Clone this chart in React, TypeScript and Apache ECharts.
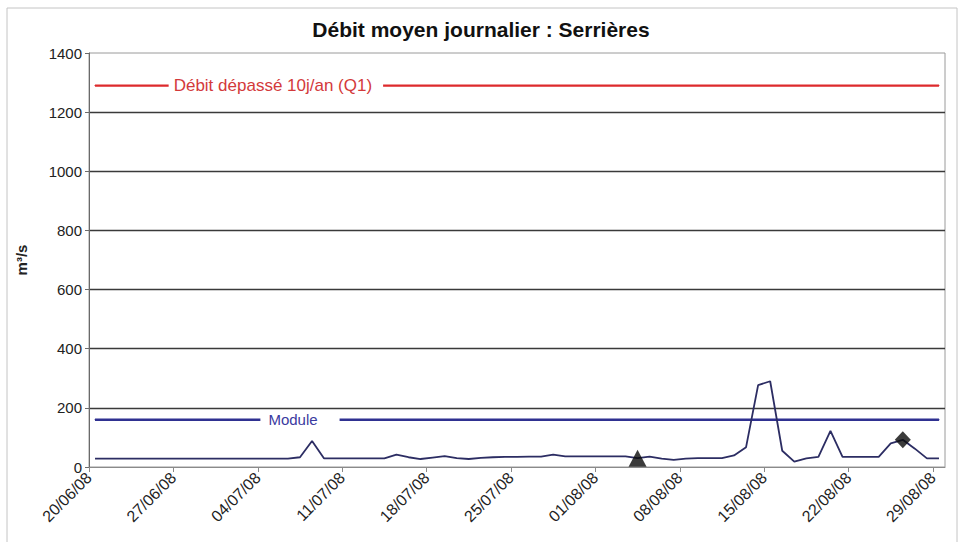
import React, { useEffect, useRef } from "react";
import * as echarts from "echarts";

const title = "Débit moyen journalier : Serrières";
const yAxisName = "m³/s";
const startDate = { year: 2008, month: 6, day: 20 };
const dayCount = 71;
const flow = [
  28, 28, 28, 28, 28, 28, 28, 28, 28, 28,
  28, 28, 28, 28, 28, 28, 28, 33, 88, 29,
  29, 29, 29, 29, 29, 42, 33, 27, 32, 37,
  30, 27, 31, 33, 34, 34, 35, 35, 42, 36,
  36, 36, 36, 36, 36, 30, 35, 28, 24, 28,
  30, 30, 30, 39, 67, 277, 290, 55, 18, 29,
  34, 122, 34, 34, 34, 34, 80, 92, 62, 29,
  29,
];
const q1Value = 1290;
const q1Label = "Débit dépassé 10j/an (Q1)";
const q1LabelDay = 15;
const moduleValue = 160;
const moduleLabel = "Module";
const moduleLabelDay = 17;
const triangleDay = 45;
const diamondDay = 67;
const yTicks = [0, 200, 400, 600, 800, 1000, 1200, 1400];
const labelEvery = 7;

function dateLabel(idx: number) {
  const d = new Date(startDate.year, startDate.month - 1, startDate.day + idx);
  const dd = String(d.getDate()).padStart(2, "0");
  const mm = String(d.getMonth() + 1).padStart(2, "0");
  const yy = String(d.getFullYear() % 100).padStart(2, "0");
  return `${dd}/${mm}/${yy}`;
}

const FONT = "'Liberation Sans', Arial, sans-serif";

export default function App() {
  const ref = useRef<HTMLDivElement>(null);
  useEffect(() => {
    if (!ref.current) return;
    const chart = echarts.init(ref.current, null, { renderer: "svg" });
    const flowData = flow.map((v, i) => [i + 0.5, v]);
    const constLine = (
      val: number,
      labelDay: number,
      text: string,
      color: string,
      size: number,
      pad: number[]
    ) =>
      Array.from({ length: dayCount }, (_, i) => {
        const item: any = { value: [i + 0.5, val] };
        if (i === labelDay) {
          item.label = {
            show: true,
            position: "inside",
            formatter: text,
            color,
            fontFamily: FONT,
            fontSize: size,
            backgroundColor: "#ffffff",
            padding: pad,
          };
        }
        return item;
      });
    chart.setOption({
      animation: false,
      backgroundColor: "#ffffff",
      textStyle: { fontFamily: FONT },
      title: {
        text: title,
        left: "center",
        top: 19,
        padding: 0,
        textStyle: { fontFamily: FONT, fontSize: 21, fontWeight: "bold", color: "#111" },
      },
      graphic: [
        {
          type: "rect",
          shape: { x: 7, y: 8, width: 950, height: 540 },
          style: { fill: "none", stroke: "#c4c4c4", lineWidth: 1 },
          silent: true,
        },
      ],
      grid: {
        left: 89,
        right: 17,
        top: 53,
        bottom: 75,
        show: true,
        borderColor: "#9a9a9a",
        borderWidth: 1,
      },
      xAxis: {
        type: "value",
        min: 0,
        max: dayCount,
        interval: labelEvery,
        axisLine: { show: true, onZero: false, lineStyle: { color: "#8a8a8a", width: 1 } },
        axisTick: { show: true, length: 5, lineStyle: { color: "#8a8a8a" } },
        splitLine: { show: false },
        axisLabel: {
          rotate: 45,
          margin: 8,
          fontSize: 16,
          color: "#222",
          fontFamily: FONT,
          showMaxLabel: false,
          formatter: (v: number) => (v % labelEvery === 0 && v < dayCount ? dateLabel(v) : ""),
        },
      },
      yAxis: {
        type: "value",
        min: yTicks[0],
        max: yTicks[yTicks.length - 1],
        interval: yTicks[1] - yTicks[0],
        name: yAxisName,
        nameLocation: "middle",
        nameRotate: 90,
        nameGap: 60,
        nameTextStyle: { fontFamily: FONT, fontSize: 15, fontWeight: "bold", color: "#222" },
        axisLine: { show: true, lineStyle: { color: "#6a6a6a", width: 1 } },
        axisTick: { show: true, length: 4, lineStyle: { color: "#6a6a6a" } },
        axisLabel: {
          margin: 7,
          fontSize: 15,
          color: "#222",
          fontFamily: FONT,
          formatter: (v: number) => String(v),
        },
        splitLine: {
          show: true,
          showMinLine: false,
          showMaxLine: false,
          lineStyle: { color: "#3a3a3a", width: 1.3 },
        },
      },
      series: [
        {
          type: "line",
          name: q1Label,
          data: constLine(q1Value, q1LabelDay, q1Label, "#d3393b", 17, [1, 11, 1, 5]),
          showSymbol: true,
          symbol: "circle",
          symbolSize: 1,
          itemStyle: { color: "#dd2a2c" },
          lineStyle: { color: "#dd2a2c", width: 2.2 },
          z: 3,
        },
        {
          type: "line",
          name: moduleLabel,
          data: constLine(moduleValue, moduleLabelDay, moduleLabel, "#3a3aa0", 15, [1, 22, 1, 8]),
          showSymbol: true,
          symbol: "circle",
          symbolSize: 1,
          itemStyle: { color: "#2f3191" },
          lineStyle: { color: "#2f3191", width: 2.4 },
          z: 3,
        },
        {
          type: "line",
          name: "Débit",
          data: flowData,
          showSymbol: false,
          symbol: "none",
          lineStyle: { color: "#2c2d63", width: 1.8 },
          z: 4,
        },
        {
          type: "scatter",
          data: [[triangleDay + 0.5, flow[triangleDay]]],
          symbol: "triangle",
          symbolSize: [18, 17],
          itemStyle: { color: "#0a0a0a" },
          z: 5,
        },
        {
          type: "scatter",
          data: [[diamondDay + 0.5, flow[diamondDay]]],
          symbol: "diamond",
          symbolSize: [16, 17],
          itemStyle: { color: "#0a0a0a" },
          z: 5,
        },
      ],
    });
    return () => chart.dispose();
  }, []);
  return <div ref={ref} style={{ width: 962, height: 542, position: "absolute", left: 0, top: 0 }} />;
}
